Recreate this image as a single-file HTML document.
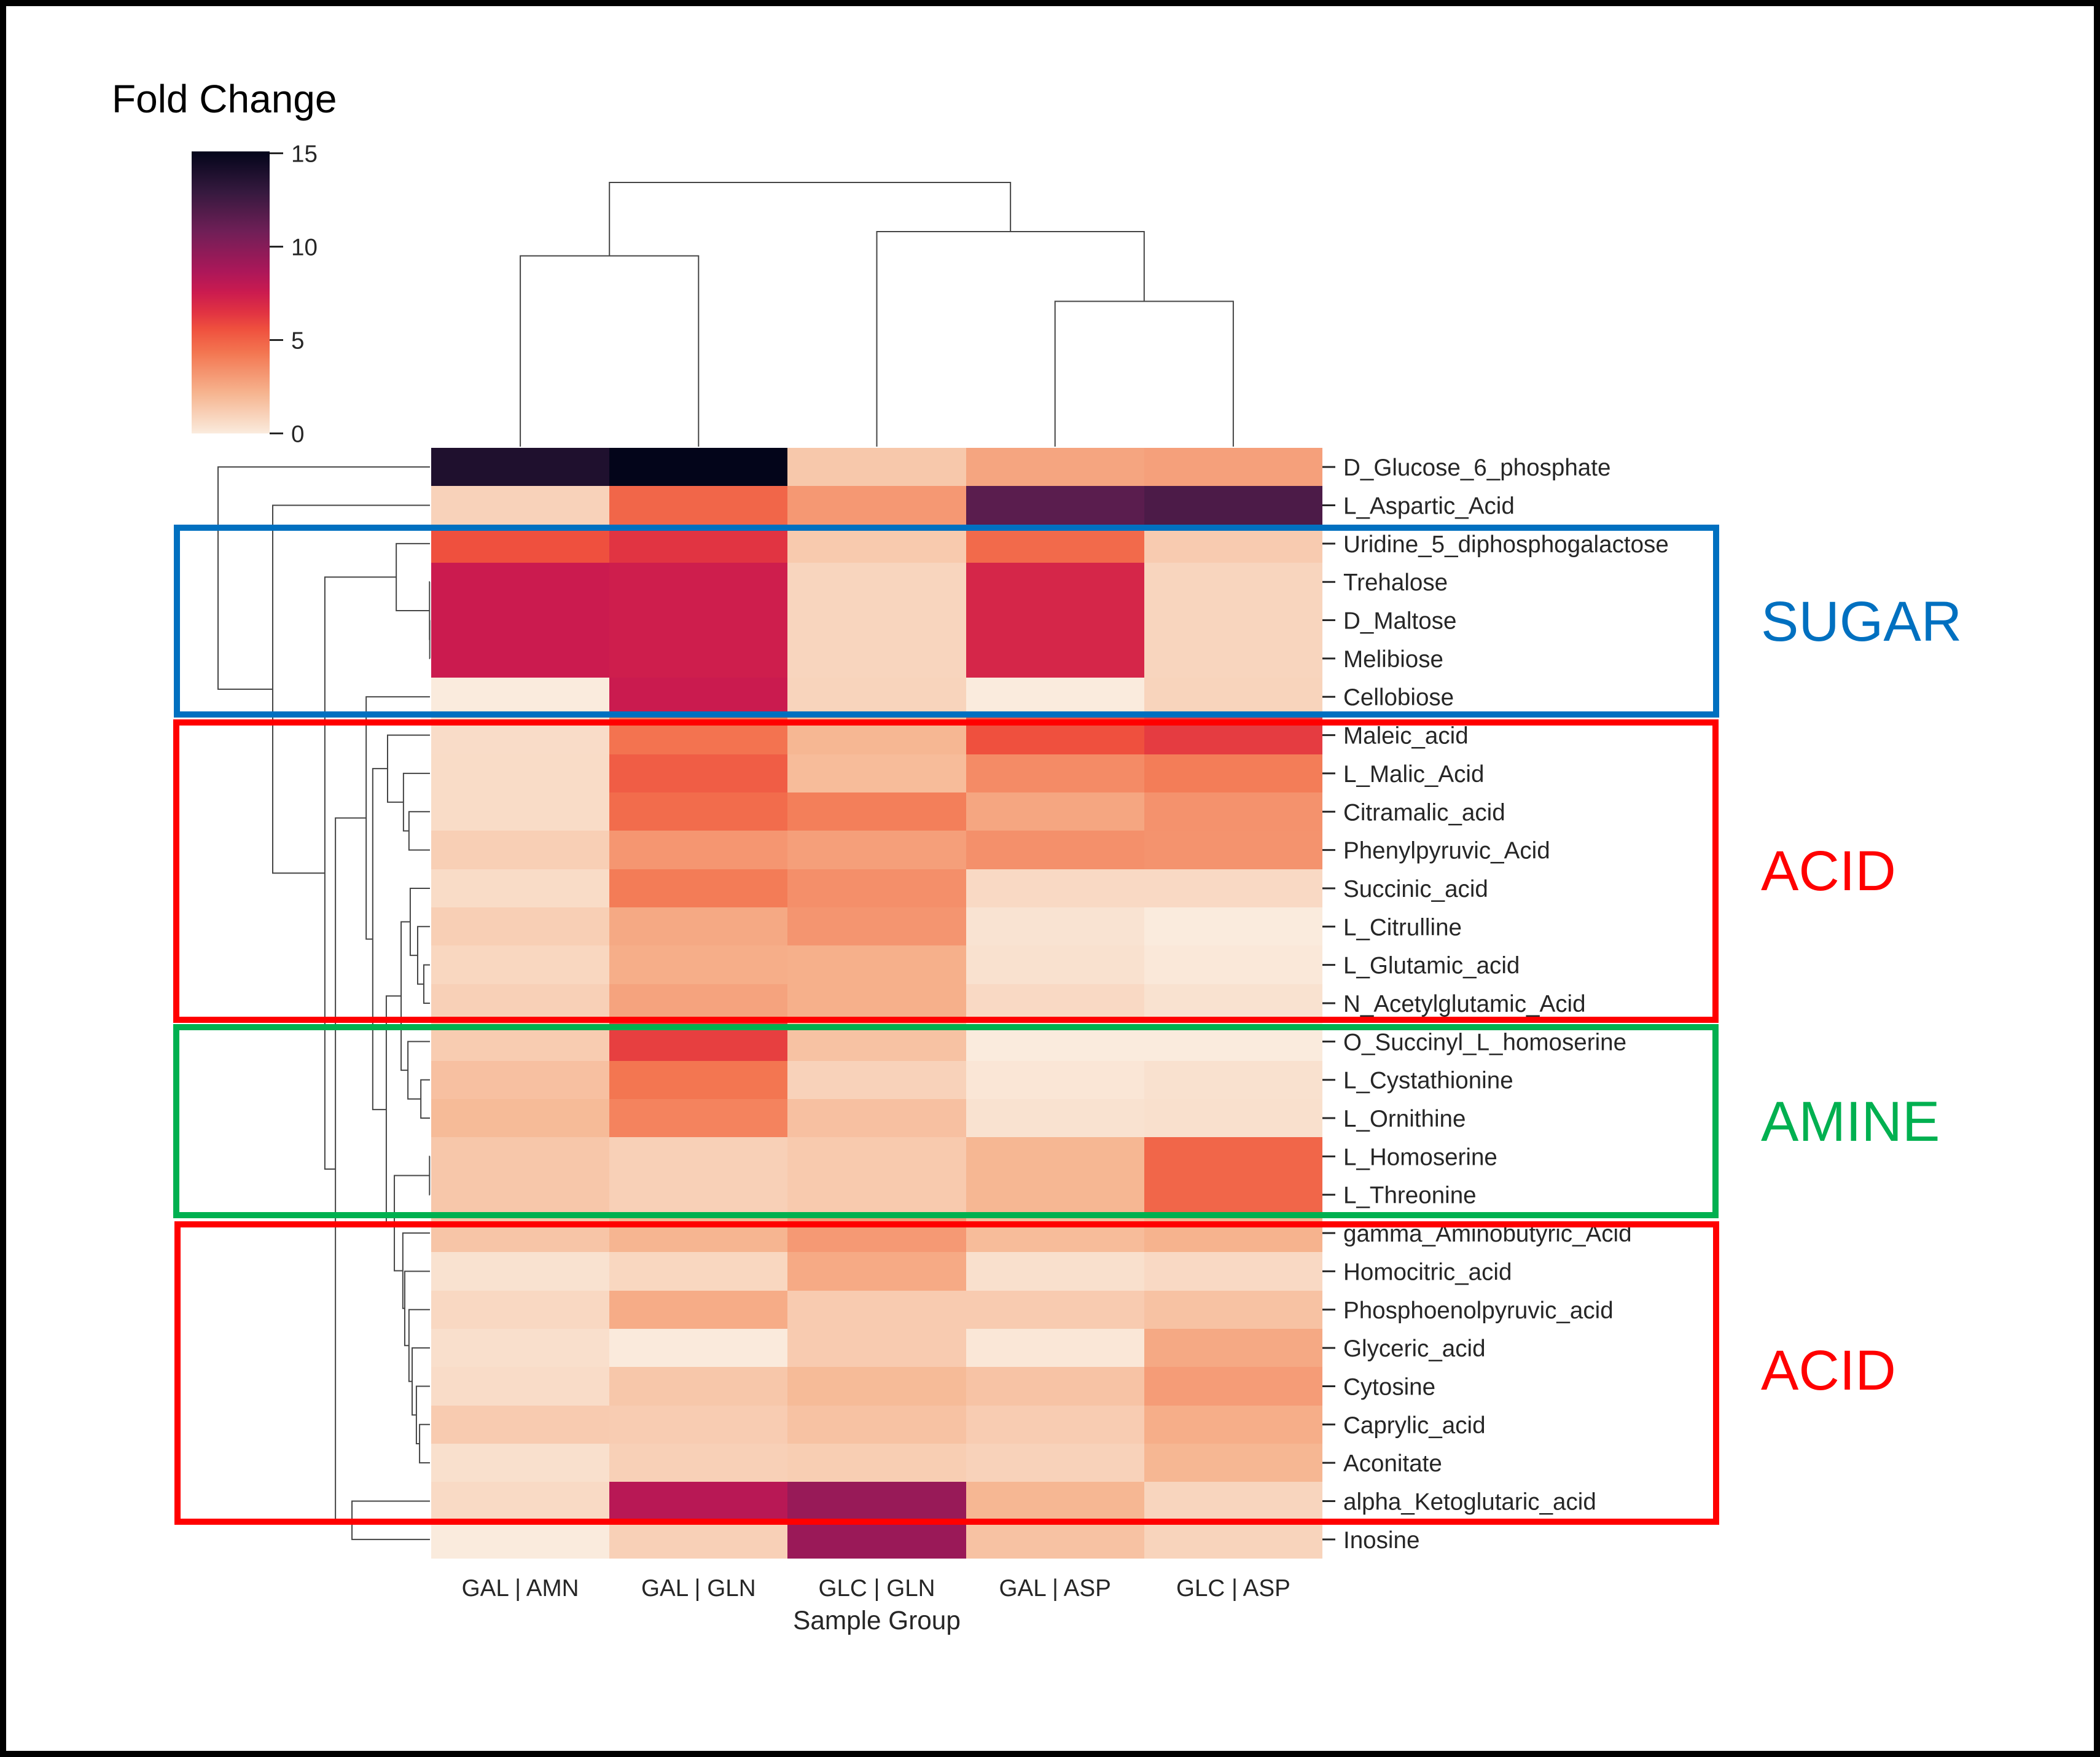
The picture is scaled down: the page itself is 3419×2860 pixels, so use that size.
<!DOCTYPE html>
<html lang="en">
<head>
<meta charset="utf-8">
<title>Fold Change clustered heatmap</title>
<style>
html,body{margin:0;padding:0;background:#fff;}
svg{display:block;position:absolute;left:0;top:0;font-family:"Liberation Sans",Arial,sans-serif;}
</style>
</head>
<body>
<svg id="chart" xmlns="http://www.w3.org/2000/svg" width="3419" height="2860" viewBox="0 0 3419 2860">
  <defs>
    <linearGradient id="cbar-gradient" x1="0" y1="1" x2="0" y2="0"></linearGradient>
  </defs>
  <rect x="0" y="0" width="3419" height="2860" fill="#ffffff"></rect>
  <g id="colorbar"></g>
  <text x="182" y="183" font-size="64" fill="#000000">Fold Change</text>
  <g id="heatmap" shape-rendering="crispEdges"></g>
  <g id="col-dendrogram" fill="none" stroke="#454545" stroke-width="2"></g>
  <g id="row-dendrogram" fill="none" stroke="#454545" stroke-width="2"></g>
  <g id="row-axis"></g>
  <g id="col-axis"></g>
  <text x="1427.5" y="2652" font-size="42.3" fill="#262626" text-anchor="middle">Sample Group</text>

  <rect x="288" y="859" width="2506" height="304" fill="none" stroke="#0070C0" stroke-width="10"></rect>
  <rect x="287" y="1176" width="2506" height="484" fill="none" stroke="#FF0000" stroke-width="10"></rect>
  <rect x="287" y="1672" width="2506" height="306" fill="none" stroke="#00B050" stroke-width="10"></rect>
  <rect x="289" y="1993" width="2505" height="484" fill="none" stroke="#FF0000" stroke-width="10"></rect>

  <text x="2867" y="1043" font-size="92" fill="#0070C0">SUGAR</text>
  <text x="2867" y="1449" font-size="92" fill="#FF0000">ACID</text>
  <text x="2867" y="1857" font-size="92" fill="#00B050">AMINE</text>
  <text x="2867" y="2262" font-size="92" fill="#FF0000">ACID</text>

  <rect x="5" y="5" width="3409" height="2850" fill="none" stroke="#000000" stroke-width="10"></rect>
</svg>
<script>
const rowLabels = ["D_Glucose_6_phosphate","L_Aspartic_Acid","Uridine_5_diphosphogalactose","Trehalose","D_Maltose","Melibiose","Cellobiose","Maleic_acid","L_Malic_Acid","Citramalic_acid","Phenylpyruvic_Acid","Succinic_acid","L_Citrulline","L_Glutamic_acid","N_Acetylglutamic_Acid","O_Succinyl_L_homoserine","L_Cystathionine","L_Ornithine","L_Homoserine","L_Threonine","gamma_Aminobutyric_Acid","Homocitric_acid","Phosphoenolpyruvic_acid","Glyceric_acid","Cytosine","Caprylic_acid","Aconitate","alpha_Ketoglutaric_acid","Inosine"];
const colLabels = ["GAL | AMN","GAL | GLN","GLC | GLN","GAL | ASP","GLC | ASP"];

const galAmn = [13.9,0.98,5.6,7.55,7.55,7.55,0,0.59,0.6,0.6,1.1,0.6,1.1,0.8,1.06,1.22,1.67,1.9,1.41,1.41,1.5,0.35,0.75,0.47,0.59,1.25,0.43,0.67,0];
const galGln = [15.1,4.86,6.45,7.4,7.4,7.4,7.6,4.4,5.15,4.64,3.2,4.1,2.55,2.35,2.75,6.1,4.3,3.86,1.06,1.06,2.1,0.8,2.45,0.04,1.4,1.2,1.06,8.25,1.06];
const glcGln = [1.37,3.14,1.3,0.86,0.86,0.86,0.9,2.05,1.85,4.0,2.9,3.45,3.25,2.28,2.28,1.6,0.98,1.67,1.3,1.3,3.1,2.5,1.25,1.25,1.9,1.6,1.15,9.36,9.3];
const galAsp = [2.68,11.6,4.7,7.05,7.05,7.05,0,5.6,3.6,2.65,3.4,0.7,0.31,0.39,0.7,0,0.2,0.35,2.05,2.05,1.85,0.43,1.25,0.16,1.55,1.2,0.98,2.05,1.6];
const glcAsp = [2.86,12.1,1.25,0.86,0.86,0.86,0.92,6.2,4.08,3.35,3.3,0.7,0,0.12,0.35,0,0.39,0.43,4.85,4.85,2.2,0.7,1.6,2.55,3.0,2.35,2.05,0.86,0.92];
const columnSeries = [galAmn,galGln,glcGln,galAsp,glcAsp];

const colorbarTicks = [0,5,10,15];

/* linkage trees: [merge height, child, child]; a bare number is a leaf index */
const rowTree = [100,0,[74.2,1,[49.6,[15.9,2,[0.2,3,[0.1,4,5]]],[44.6,[30.1,6,[27,[20,7,[12.5,8,[9.9,9,10]]],[20.6,[13.6,[9.3,11,[5.8,12,[2.9,13,14]]],[10.4,15,[4.3,16,17]]],[16.8,[0.2,18,19],[12.8,20,[11.9,21,[9.9,22,[8.4,23,[6.4,24,[4.9,25,26]]]]]]]]]],[36.8,27,28]]]]];
const colTree = [100,[72.2,0,1],[81.4,2,[55,3,4]]];

const SVGNS = "http://www.w3.org/2000/svg";
const plot = {left:702,right:2153,top:729,bottom:2537};
const cbar = {left:312,right:439,zeroY:705.5,perUnit:30.4,max:15.1};
const rowStep = (plot.bottom-plot.top)/rowLabels.length;
const colStep = (plot.right-plot.left)/colLabels.length;
const rowY = i => plot.top + i*rowStep;
const colX = j => plot.left + j*colStep;
const rowCenter = i => rowY(i) + rowStep/2;
const colCenter = j => colX(j) + colStep/2;
const rowDendroX = h => 700 - h*3.45;
const colDendroY = h => 727 - h*4.3;
const cbarY = v => cbar.zeroY - v*cbar.perUnit;

const colorStops = [[0,"#faebdd"],[1/7,"#f6b48f"],[2/7,"#f37651"],[0.37,"#ef503e"],[3/7,"#e13342"],[0.5,"#cb1b4f"],[4/7,"#ad1759"],[5/7,"#701f57"],[6/7,"#35193e"],[1,"#03051a"]];
function hexRgb(h){return [1,3,5].map(k=>parseInt(h.substr(k,2),16));}
function colorFor(v){
  const t = Math.max(0,Math.min(1,v/cbar.max));
  for(let k=1;k<colorStops.length;k++){
    if(t<=colorStops[k][0]){
      const a=colorStops[k-1],b=colorStops[k];
      const f=(t-a[0])/(b[0]-a[0]);
      const ca=hexRgb(a[1]),cb=hexRgb(b[1]);
      return "rgb("+ca.map((c,n)=>Math.round(c+(cb[n]-c)*f)).join(",")+")";
    }
  }
  return colorStops[colorStops.length-1][1];
}
function make(tag,attrs,parent){
  const el=document.createElementNS(SVGNS,tag);
  for(const k in attrs){el.setAttribute(k,attrs[k]);}
  parent.appendChild(el);
  return el;
}

/* heatmap cells */
const heatmapGroup=document.getElementById("heatmap");
columnSeries.forEach((series,j)=>{
  series.forEach((v,i)=>{
    const x0=Math.round(colX(j)),x1=Math.round(colX(j+1));
    const y0=Math.round(rowY(i)),y1=Math.round(rowY(i+1));
    const el=make("rect",{x:x0,y:y0,width:x1-x0,height:y1-y0,fill:colorFor(v)},heatmapGroup);
    
    
  });
});

/* colorbar */
const gradient=document.getElementById("cbar-gradient");
colorStops.forEach(s=>{
  make("stop",{offset:s[0],"stop-color":s[1]},gradient);
});
const colorbarGroup=document.getElementById("colorbar");
const cbarRect=make("rect",{x:cbar.left,y:cbarY(cbar.max),width:cbar.right-cbar.left,height:cbarY(0)-cbarY(cbar.max),fill:"url(#cbar-gradient)"},colorbarGroup);


colorbarTicks.forEach(v=>{
  const tick=make("line",{x1:cbar.right,x2:cbar.right+22,y1:cbarY(v),y2:cbarY(v),stroke:"#262626","stroke-width":3},colorbarGroup);
  
  
  const label=make("text",{x:474,y:cbarY(v)+14,"font-size":38.6,fill:"#262626"},colorbarGroup);
  label.textContent=String(v);
  
  
});

/* row axis */
const rowAxis=document.getElementById("row-axis");
rowLabels.forEach((name,i)=>{
  const tick=make("line",{x1:plot.right,x2:plot.right+21,y1:rowCenter(i),y2:rowCenter(i),stroke:"#262626","stroke-width":3},rowAxis);
  
  
  const label=make("text",{x:2187,y:rowCenter(i)+14,"font-size":38.6,fill:"#262626"},rowAxis);
  label.textContent=name;
  
  
});

/* column axis */
const colAxis=document.getElementById("col-axis");
colLabels.forEach((name,j)=>{
  const label=make("text",{x:colCenter(j),y:2598,"font-size":38.6,fill:"#262626","text-anchor":"middle"},colAxis);
  label.textContent=name;
  
  
});

/* dendrograms */
const rowDendroGroup=document.getElementById("row-dendrogram");
function drawRowNode(node){
  if(typeof node==="number"){return {pos:rowCenter(node),val:rowDendroX(0)};}
  const a=drawRowNode(node[1]),b=drawRowNode(node[2]);
  const x=rowDendroX(node[0]);
  const el=make("path",{d:"M"+a.val+" "+a.pos+"H"+x+"V"+b.pos+"H"+b.val},rowDendroGroup);
  
  
  return {pos:(a.pos+b.pos)/2,val:x};
}
drawRowNode(rowTree);

const colDendroGroup=document.getElementById("col-dendrogram");
function drawColNode(node){
  if(typeof node==="number"){return {pos:colCenter(node),val:colDendroY(0)};}
  const a=drawColNode(node[1]),b=drawColNode(node[2]);
  const y=colDendroY(node[0]);
  const el=make("path",{d:"M"+a.pos+" "+a.val+"V"+y+"H"+b.pos+"V"+b.val},colDendroGroup);
  
  
  return {pos:(a.pos+b.pos)/2,val:y};
}
drawColNode(colTree);
</script>
</body>
</html>
